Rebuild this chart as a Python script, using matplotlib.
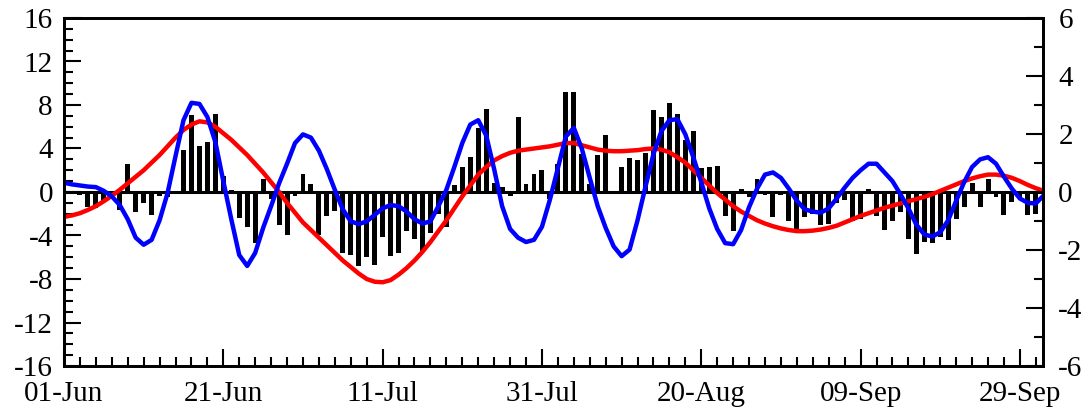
import matplotlib
matplotlib.use("Agg")
from matplotlib import pyplot as plt
from matplotlib.ticker import FixedLocator, MultipleLocator
import matplotlib.dates as mdates
import numpy as np
import pandas as pd

# daily values, 01-Jun onwards
bar_vals = [
    0, -0.2, -0.3, -1.4, -1.5, -0.9, -0.4, -1.7, 2.6, -1.8,
    -1.0, -2.1, -0.4, -0.5, 0, 3.9, 7.1, 4.2, 4.6, 7.2,
    1.5, 0.2, -2.4, -3.25, -4.7, 1.2, -0.6, -3.0, -4.0, -0.4,
    1.7, 0.75, -4.0, -2.2, -1.75, -5.6, -5.8, -6.8, -6.0, -6.75,
    -4.1, -5.9, -5.6, -3.6, -4.3, -5.5, -3.8, -2.0, -3.25, 0.6,
    2.3, 3.2, 5.9, 7.6, 0.8, 0.5, -0.4, 6.9, 0.75, 1.7,
    2.0, -0.6, 2.6, 9.2, 9.2, 3.5, 0.75, 3.4, 5.2, 0,
    2.3, 3.1, 2.9, 3.6, 7.5, 6.9, 8.2, 7.2, 4.8, 5.6,
    2.2, 2.3, 2.4, -2.2, -3.6, 0.3, -0.5, 1.15, -0.3, -2.3,
    -0.3, -2.7, -3.4, -2.3, -2.0, -3.0, -2.9, -1.0, -0.7, -2.7,
    -2.5, 0.25, -2.2, -3.5, -2.7, -1.8, -4.3, -5.7, -4.6, -4.7,
    -4.1, -4.4, -2.5, -1.35, 0.8, -1.4, 1.15, -0.5, -2.1, -0.9,
    -0.5, -2.1, -2.0,
]

red_vals = [
    -2.3, -2.15, -1.95, -1.65, -1.3, -0.85, -0.35, 0.2, 0.8, 1.4,
    2.0, 2.7, 3.4, 4.2, 5.0, 5.7, 6.2, 6.5, 6.4, 6.0,
    5.4, 4.8, 4.1, 3.4, 2.6, 1.8, 0.9, 0.0, -1.0, -1.9,
    -2.8, -3.5, -4.2, -4.9, -5.6, -6.3, -6.9, -7.5, -8.0, -8.25,
    -8.3, -8.1, -7.6, -7.0, -6.3, -5.5, -4.6, -3.6, -2.6, -1.5,
    -0.4, 0.6, 1.6, 2.3, 2.9, 3.3, 3.6, 3.8, 3.9, 4.0,
    4.1, 4.2, 4.35, 4.5, 4.5, 4.3, 4.1, 3.9, 3.8, 3.75,
    3.75, 3.8, 3.85, 3.95, 4.0, 3.9, 3.65, 3.2, 2.7, 2.0,
    1.3, 0.6, -0.1, -0.7, -1.3, -1.8, -2.2, -2.6, -2.9, -3.15,
    -3.35, -3.5, -3.6, -3.6, -3.55, -3.45, -3.3, -3.1, -2.8, -2.5,
    -2.2, -1.95, -1.7, -1.45, -1.25, -1.05, -0.85, -0.65, -0.45, -0.2,
    0.1, 0.4, 0.7, 1.0, 1.25, 1.45, 1.6, 1.6, 1.5, 1.3,
    1.0, 0.65, 0.35, 0.1,
]

blue_vals = [
    0.85, 0.7, 0.6, 0.5, 0.45, 0.1, -0.4, -1.2, -2.5, -4.2,
    -4.85, -4.4, -2.6, -0.1, 3.3, 6.6, 8.2, 8.1, 6.9, 4.6,
    1.0, -2.5, -5.8, -6.8, -5.6, -3.3, -1.3, 0.8, 2.6, 4.5,
    5.3, 5.0, 3.8, 2.1, 0.2, -1.6, -2.7, -2.95, -2.7, -2.1,
    -1.5, -1.2, -1.3, -1.8, -2.5, -2.9, -2.7, -1.3, 0.2, 2.3,
    4.5, 6.2, 6.6, 5.2, 2.1, -1.3, -3.4, -4.2, -4.6, -4.4,
    -3.2, -0.7, 2.2, 5.1, 5.9, 4.0, 1.3, -1.3, -3.3, -5.0,
    -5.9, -5.3, -2.6, 0.5, 3.5, 5.6, 6.6, 6.7, 5.3, 3.2,
    0.9, -1.5, -3.4, -4.7, -4.8, -3.5, -1.4, 0.3, 1.6, 1.8,
    1.3, 0.3, -0.8, -1.6, -1.8, -1.9, -1.5, -0.6, 0.4, 1.3,
    2.0, 2.6, 2.6, 1.8, 1.0, -0.2, -1.5, -3.0, -3.9, -4.1,
    -3.7, -2.6, -0.8, 0.9, 2.3, 3.0, 3.2, 2.6, 1.4, 0.3,
    -0.6, -1.0, -1.05, -0.3,
]

start = pd.Timestamp("2019-06-01")
bar_days = pd.date_range(start, periods=len(bar_vals), freq="D")
line_days = pd.date_range(start, periods=len(red_vals), freq="D")
major_days = pd.date_range(start, periods=7, freq="20D")
minor_days = pd.date_range(start, periods=62, freq="2D")

plt.rcParams["font.family"] = ["Liberation Serif", "DejaVu Serif"]
plt.rcParams["axes.unicode_minus"] = False

fig = plt.figure(figsize=(10.91, 4.15), dpi=100)
ax = fig.add_axes([64 / 1091, 1 - 366 / 415, (1043 - 64) / 1091, 348 / 415])

ax.bar(bar_days, bar_vals, width=0.62, color="black", zorder=2)
ax.axhline(0, color="black", lw=2.2, zorder=3)
ax.plot(line_days, red_vals, color="#ff0000", lw=3.2, zorder=4)
ax.plot(line_days, blue_vals, color="#0000ff", lw=3.2, zorder=5)

ax.set_xlim(start, start + pd.Timedelta(days=122.9))
ax.set_ylim(-16, 16)
ax.yaxis.set_major_locator(MultipleLocator(4))
ax.yaxis.set_minor_locator(MultipleLocator(1))
ax.xaxis.set_major_locator(FixedLocator(mdates.date2num(major_days)))
ax.xaxis.set_minor_locator(FixedLocator(mdates.date2num(minor_days)))
ax.xaxis.set_major_formatter(mdates.DateFormatter("%d-%b"))

ax2 = ax.twinx()
ax2.set_ylim(-6, 6)
ax2.yaxis.set_major_locator(MultipleLocator(2))
ax2.yaxis.set_minor_locator(MultipleLocator(1))

for a in (ax, ax2):
    for s in a.spines.values():
        s.set_linewidth(2)
    a.tick_params(which="major", direction="in", length=12, width=1.5, labelsize=21)
    a.tick_params(which="minor", direction="in", length=6.5, width=1.5)
ax.tick_params(axis="x", which="both", top=False, pad=11)
ax.tick_params(axis="y", which="both", right=False, pad=8)
ax2.tick_params(axis="y", which="both", left=False, pad=11)

fig.savefig("out.png", dpi=100)
